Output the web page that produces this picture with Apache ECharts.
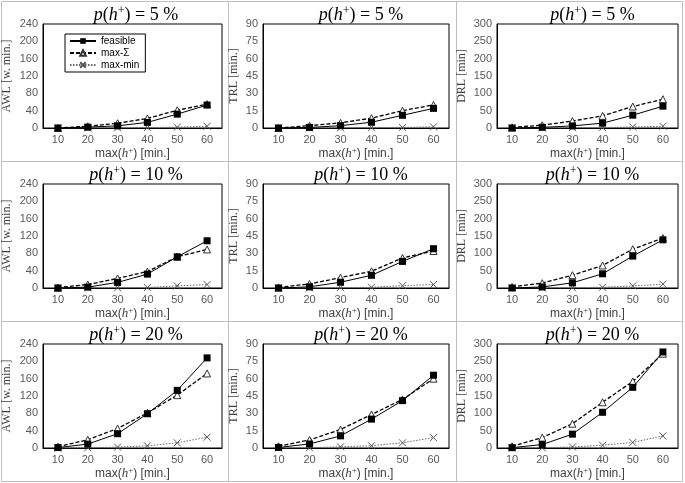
<!DOCTYPE html>
<html><head><meta charset="utf-8">
<script src="https://cdn.jsdelivr.net/npm/echarts@6/dist/echarts.min.js"></script>
<style>html,body{margin:0;padding:0;background:#fff}#c{width:685px;height:483px}</style>
</head><body><div id="c"></div>
<script>
var categories = ['10','20','30','40','50','60'];
var percents = ['5','10','20'];
var metrics = ['AWL','TRL','DRL'];
var yNames = ['AWL [w. min.]','TRL [min.]','DRL [min]'];
var yMax = [240, 90, 300];
var yInterval = [40, 15, 50];
var seriesNames = ['feasible','max-Σ','max-min'];

var awl5_feasible = [0,2,5,13,32,53];
var awl5_maxsum   = [0,4,11,22,41,55];
var awl5_maxmin   = [0,0,0.5,1,2,4];
var trl5_feasible = [0,0.5,2,5,11,17];
var trl5_maxsum   = [0,2,4.5,8.5,15,20];
var trl5_maxmin   = [0,0,0.2,0.3,0.5,1];
var drl5_feasible = [0,2,6,14,37,63];
var drl5_maxsum   = [2,8,20,35,62,83];
var drl5_maxmin   = [0,0,1,1,3,5];

var awl10_feasible = [0,2,13,32,72,109];
var awl10_maxsum   = [1,8,22,38,72,89];
var awl10_maxmin   = [0,0,0.5,1,5,8];
var trl10_feasible = [0,1,5,11,23,34];
var trl10_maxsum   = [0.5,3.5,9,14.5,26,32];
var trl10_maxmin   = [0,0,0.3,0.6,2,3];
var drl10_feasible = [0,3,15,41,92,139];
var drl10_maxsum   = [3,14,37,65,112,144];
var drl10_maxmin   = [0,0,1,2,6,11];

var awl20_feasible = [1,9,33,79,133,208];
var awl20_maxsum   = [3,19,45,81,122,172];
var awl20_maxmin   = [0,0.5,2,5,12,25];
var trl20_feasible = [0.5,3.5,10.5,25,41,63];
var trl20_maxsum   = [1.5,7,16,29,42,60];
var trl20_maxmin   = [0,0.2,1,2,4.5,9];
var drl20_feasible = [1,10,40,103,175,277];
var drl20_maxsum   = [5,30,70,132,192,272];
var drl20_maxmin   = [0,0.5,3,8,16,35];

var panelData = [
  [[awl5_feasible,awl5_maxsum,awl5_maxmin],[trl5_feasible,trl5_maxsum,trl5_maxmin],[drl5_feasible,drl5_maxsum,drl5_maxmin]],
  [[awl10_feasible,awl10_maxsum,awl10_maxmin],[trl10_feasible,trl10_maxsum,trl10_maxmin],[drl10_feasible,drl10_maxsum,drl10_maxmin]],
  [[awl20_feasible,awl20_maxsum,awl20_maxmin],[trl20_feasible,trl20_maxsum,trl20_maxmin],[drl20_feasible,drl20_maxsum,drl20_maxmin]]
];

var colLeft = [40, 263, 497];
var colWidth = [182, 186, 181];
var yNameGap = [30, 23, 29];
var rowTop = [24, 184, 344];
var plotH = 104;

var serif = '"Liberation Serif","DejaVu Serif",serif';
var sans = '"Liberation Sans","DejaVu Sans",sans-serif';

var grids = [], xAxes = [], yAxes = [], series = [], titles = [];
var crossPath = 'path://M0,0L10,10M10,0L0,10';

for (var r = 0; r < 3; r++) {
  for (var c = 0; c < 3; c++) {
    var i = r * 3 + c;
    grids.push({left: colLeft[c], top: rowTop[r], width: colWidth[c], height: plotH,
      show: true, borderColor: '#000', borderWidth: 1, backgroundColor: 'transparent'});
    titles.push({
      text: '{i|p}({i|h}{sup|+}) = ' + percents[r] + ' %',
      left: colLeft[c] + colWidth[c] / 2, top: rowTop[r] - 24, textAlign: 'center',
      textStyle: {fontFamily: serif, fontSize: 18, fontWeight: 'normal', color: '#000',
        rich: {
          i: {fontFamily: serif, fontStyle: 'italic', fontSize: 18, color: '#000'},
          sup: {fontFamily: serif, fontSize: 12, verticalAlign: 'top', padding: [0,0,8,0], color: '#000'}
        }}
    });
    xAxes.push({type: 'category', gridIndex: i, data: categories, boundaryGap: true,
      axisLine: {lineStyle: {color: '#000'}}, axisTick: {show: false},
      axisLabel: {fontFamily: sans, fontSize: 11, color: '#595959', margin: 6},
      name: 'max({i|h}{sup|+}) [min.]', nameLocation: 'middle', nameGap: 18,
      nameTextStyle: {fontFamily: sans, fontSize: 12, color: '#404040',
        rich: {
          i: {fontFamily: serif, fontStyle: 'italic', fontSize: 13, color: '#404040'},
          sup: {fontFamily: serif, fontSize: 9, verticalAlign: 'top', padding: [0,0,6,0], color: '#404040'}
        }}
    });
    yAxes.push({type: 'value', gridIndex: i, min: 0, max: yMax[c], interval: yInterval[c],
      splitLine: {show: false}, axisLine: {show: true, lineStyle: {color: '#000'}}, axisTick: {show: false},
      axisLabel: {fontFamily: sans, fontSize: 11, color: '#595959', margin: 5},
      name: yNames[c], nameLocation: 'middle', nameGap: yNameGap[c],
      nameTextStyle: {fontFamily: serif, fontSize: 12, color: '#404040'}
    });
    var d = panelData[r][c];
    series.push({name: seriesNames[2], type: 'line', xAxisIndex: i, yAxisIndex: i, data: d[2],
      symbol: crossPath, symbolSize: 7, z: 2,
      lineStyle: {color: '#666', width: 1, type: [1.5, 1.5]},
      itemStyle: {color: 'rgba(0,0,0,0)', borderColor: '#555', borderWidth: 1}});
    series.push({name: seriesNames[1], type: 'line', xAxisIndex: i, yAxisIndex: i, data: d[1],
      symbol: 'triangle', symbolSize: 7, z: 3,
      lineStyle: {color: '#000', width: 1.3, type: [4, 2]},
      itemStyle: {color: '#fff', borderColor: '#333', borderWidth: 1}});
    series.push({name: seriesNames[0], type: 'line', xAxisIndex: i, yAxisIndex: i, data: d[0],
      symbol: 'rect', symbolSize: 7, z: 4,
      lineStyle: {color: '#000', width: 1},
      itemStyle: {color: '#000'}});
  }
}

var lineStyleG = {stroke: '#bfbfbf', lineWidth: 1};
var graphics = [
  {type: 'rect', shape: {x: 1.5, y: 1.5, width: 681, height: 480}, style: {fill: 'none', stroke: '#bfbfbf', lineWidth: 1}, silent: true, z: -1},
  {type: 'line', shape: {x1: 228.5, y1: 1, x2: 228.5, y2: 482}, style: lineStyleG, silent: true},
  {type: 'line', shape: {x1: 456.5, y1: 1, x2: 456.5, y2: 482}, style: lineStyleG, silent: true},
  {type: 'line', shape: {x1: 1, y1: 161.5, x2: 683, y2: 161.5}, style: lineStyleG, silent: true},
  {type: 'line', shape: {x1: 1, y1: 321.5, x2: 683, y2: 321.5}, style: lineStyleG, silent: true}
];

var chart = echarts.init(document.getElementById('c'), null, {renderer: 'canvas'});
chart.setOption({
  animation: false,
  backgroundColor: '#fff',
  title: titles,
  grid: grids,
  xAxis: xAxes,
  yAxis: yAxes,
  series: series,
  graphic: graphics,
  legend: {
    data: seriesNames, orient: 'vertical', left: 65, top: 34,
    borderColor: '#000', borderWidth: 1, backgroundColor: '#fff',
    padding: [2, 6, 2, 4], itemGap: 2, itemWidth: 26, itemHeight: 7,
    textStyle: {fontFamily: sans, fontSize: 10, color: '#000'}
  }
});
</script>
</body></html>
